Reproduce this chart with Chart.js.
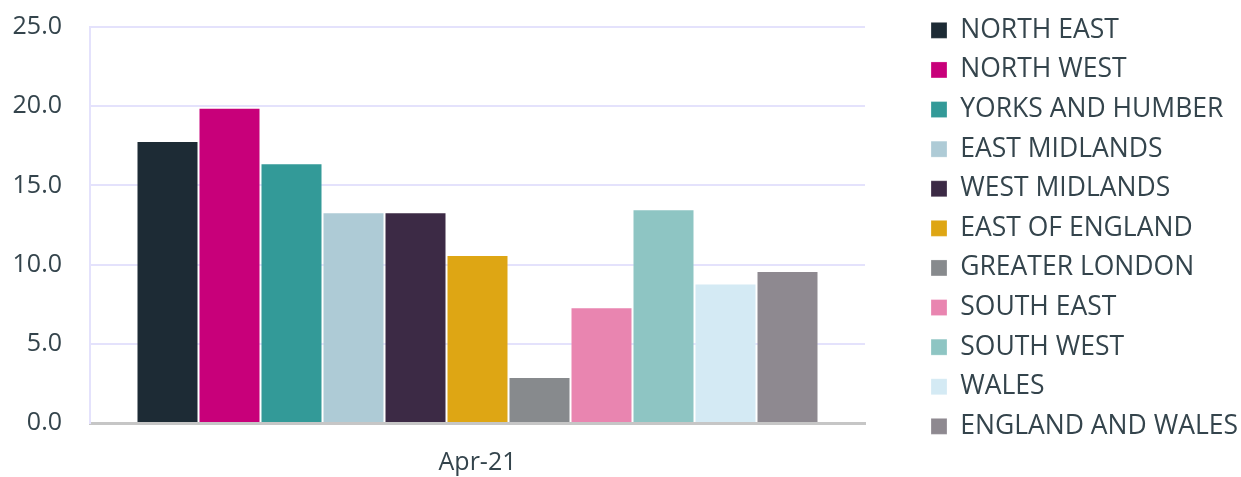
<!DOCTYPE html>
<html>
<head>
<meta charset="utf-8">
<script src="https://cdn.jsdelivr.net/npm/chart.js@4/dist/chart.umd.min.js"></script>
<style>
  html, body { margin: 0; padding: 0; background: #ffffff; }
  #wrap { width: 1241px; height: 477px; position: relative; }
</style>
</head>
<body>
<div id="wrap"><canvas id="c" width="1241" height="477"></canvas></div>
<script>
const categories = ['Apr-21'];
const regions = ['NORTH EAST', 'NORTH WEST', 'YORKS AND HUMBER', 'EAST MIDLANDS', 'WEST MIDLANDS',
  'EAST OF ENGLAND', 'GREATER LONDON', 'SOUTH EAST', 'SOUTH WEST', 'WALES', 'ENGLAND AND WALES'];
const values = [17.8, 19.9, 16.4, 13.3, 13.3, 10.6, 2.9, 7.3, 13.5, 8.8, 9.6];
const yTicks = [0, 5, 10, 15, 20, 25];

const colors = ['#1d2b35', '#c8007a', '#339a98', '#aecbd6', '#3c2a45',
  '#dea614', '#878a8d', '#e985b0', '#8ec5c3', '#d4eaf4', '#8e8990'];

const FONT = "'Open Sans', 'Noto Sans', sans-serif";
const TEXT = '#34444c';
const LEG_FONT = 26.5;
const LEG_PAD = 13.1;

const legendPlace = {
  id: 'legendPlace',
  beforeLayout(chart) {
    const l = chart.legend;
    if (l && !l._patched) {
      const f = l.fit;
      l.fit = function () { f.call(this); this.width = 376; };
      l._patched = true;
    }
  },
  afterLayout(chart) {
    const l = chart.legend;
    const h = l.bottom - l.top;
    l.left = 931 - LEG_PAD;
    l.right = 1241;
    l.top = 4;
    l.bottom = l.top + h;
  }
};

new Chart(document.getElementById('c'), {
  type: 'bar',
  data: {
    labels: categories,
    datasets: regions.map((r, i) => ({
      label: r,
      data: [values[i]],
      backgroundColor: colors[i],
      borderColor: 'rgba(255,255,255,0.25)',
      borderWidth: 1
    }))
  },
  options: {
    responsive: false,
    animation: false,
    layout: { padding: { top: 0, right: 0, bottom: 0, left: 0 } },
    datasets: { bar: { categoryPercentage: 0.88, barPercentage: 1.0 } },
    plugins: {
      tooltip: { enabled: false },
      legend: {
        position: 'right',
        align: 'start',
        labels: {
          boxWidth: 16,
          boxHeight: 16,
          padding: LEG_PAD,
          color: TEXT,
          font: { family: FONT, size: LEG_FONT }
        }
      }
    },
    scales: {
      x: {
        grid: { display: false, drawTicks: false },
        border: { display: true, color: '#c6c6c6', width: 3 },
        ticks: { color: TEXT, font: { family: FONT, size: 25 }, padding: 25 },
        afterFit(s) { s.height = 54; }
      },
      y: {
        min: 0,
        max: 25,
        afterBuildTicks(s) { s.ticks = yTicks.map(v => ({ value: v })); },
        grid: { color: '#e4e2fc', lineWidth: 2, drawTicks: false },
        border: { display: true, color: '#e4e2fc', width: 2 },
        ticks: {
          color: TEXT,
          font: { family: FONT, size: 25 },
          padding: 28,
          callback: v => Number(v).toFixed(1)
        },
        afterFit(s) { s.width = 90; s.paddingTop = 27; s.paddingBottom = 0; }
      }
    }
  },
  plugins: [legendPlace]
});
</script>
</body>
</html>
